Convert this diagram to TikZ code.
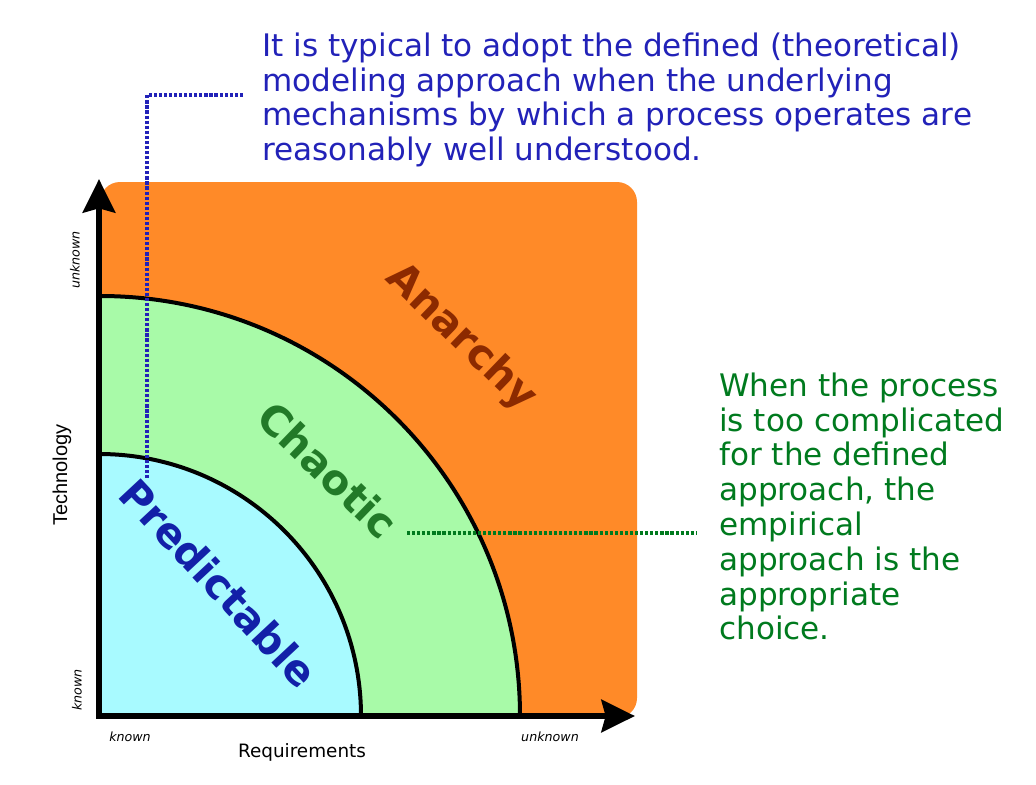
\documentclass[tikz,border=0pt]{standalone}
\usepackage{fontspec}
\setmainfont{DejaVu Sans}
\newfontfamily\arialfont{Liberation Sans}
\usetikzlibrary{arrows.meta}
\definecolor{orangefill}{RGB}{255,138,40}
\definecolor{greenfill}{RGB}{168,250,168}
\definecolor{cyanfill}{RGB}{168,250,255}
\definecolor{predblue}{RGB}{18,32,168}
\definecolor{chaogreen}{RGB}{34,122,40}
\definecolor{anarbrown}{RGB}{140,42,0}
\definecolor{noteblue}{RGB}{34,34,184}
\definecolor{notegreen}{RGB}{0,122,30}
\tikzset{
  region/.style={line width=3pt},
  zonelabel/.style={font=\fontsize{31}{36}\selectfont\bfseries, inner sep=0pt},
  note/.style={align=left, anchor=north west, inner sep=0pt, font=\fontsize{23.3}{26.1}\selectfont},
  tick/.style={font=\fontsize{9.5}{11}\selectfont\itshape, inner sep=0pt},
  dots/.style={line width=2.4pt, dash pattern=on 2.4pt off 1.4pt},
  axis/.style={line width=5.2pt, line join=miter,
    {Stealth[length=25pt,width=24pt,inset=3pt]}-{Stealth[length=25pt,width=24pt,inset=3pt]}}
}
\begin{document}
\begin{tikzpicture}[x=0.75pt, y=-0.75pt]
\useasboundingbox (0,0) rectangle (1036,785);
% background regions
\fill[orangefill, rounded corners=15pt] (100,182) rectangle (637,718);
\coordinate (origin) at (99,716);
\fill[greenfill] (origin) -- (520,716) arc[start angle=0, end angle=90, radius=315pt] -- cycle;
\draw[region] (520,716) arc[start angle=0, end angle=90, radius=315pt];
\fill[cyanfill] (origin) -- (361,716) arc[start angle=0, end angle=90, radius=196.5pt] -- cycle;
\draw[region] (361,716) arc[start angle=0, end angle=90, radius=196.5pt];
% axes
\coordinate (ytip) at (99,179);
\coordinate (xtip) at (635,716);
\draw[axis] (ytip) |- (xtip);
% zone labels
\node[zonelabel, text=predblue, rotate=-47] (pred) at (219,583) {Predictable};
\node[zonelabel, text=chaogreen, rotate=-44] (chao) at (328,470) {Chaotic};
\node[zonelabel, text=anarbrown, rotate=-44] (anar) at (461,338) {Anarchy};
% axis labels
\node[font=\arialfont\fontsize{15}{18}\selectfont, rotate=90, inner sep=0pt] (tech) at (62,475) {Technology};
\node[font=\fontsize{13.8}{16}\selectfont, inner sep=0pt] (req) at (302,752) {Requirements};
\node[tick, rotate=90] (yunk) at (75,260) {unknown};
\node[tick, rotate=90] (ykn) at (77,690) {known};
\node[tick] (xkn) at (130,737) {known};
\node[tick] (xunk) at (550,737) {unknown};
% notes
\node[note, text=noteblue] (bluetext) at (262,32.5) {It is typical to adopt the defined (theoretical)\\modeling approach when the underlying\\mechanisms by which a process operates are\\reasonably well understood.};
\node[note, text=notegreen] (greentext) at (719,372.5) {When the process\\is too complicated\\for the defined\\approach, the\\empirical\\approach is the\\appropriate\\choice.};
% dotted connectors
\coordinate (b1) at (243,95);
\coordinate (b2) at (147,480);
\draw[dots, noteblue] (b1) -| (b2);
\coordinate (g1) at (407,533);
\coordinate (g2) at (697,533);
\draw[dots, notegreen] (g1) -- (g2);
\end{tikzpicture}
\end{document}
